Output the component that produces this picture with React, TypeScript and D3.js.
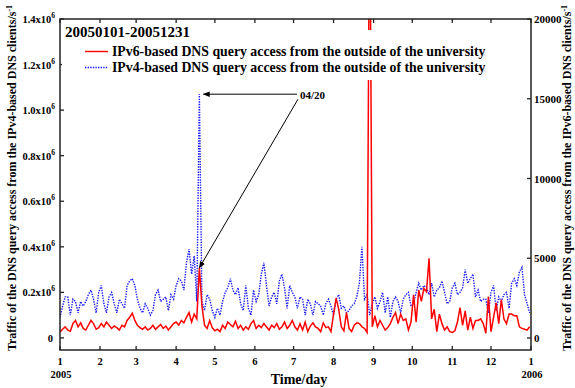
import React, { useEffect, useRef } from 'react'
import * as d3 from 'd3'

// one value every 2 days, starting 2005-01-01
const dayStep = 2

// IPv4-based DNS query traffic, in units of 10^6 /s
const ipv4Traffic = [
  0.09, 0.14, 0.18, 0.18, 0.10, 0.17, 0.16, 0.11, 0.16, 0.14,
  0.16, 0.19, 0.21, 0.17, 0.11, 0.20, 0.23, 0.15, 0.11, 0.18,
  0.20, 0.15, 0.11, 0.17, 0.15, 0.13, 0.23, 0.25, 0.26, 0.23,
  0.17, 0.13, 0.11, 0.15, 0.13, 0.10, 0.12, 0.19, 0.21, 0.16,
  0.17, 0.18, 0.12, 0.19, 0.17, 0.23, 0.26, 0.25, 0.21, 0.33,
  0.39, 0.28, 0.36, 0.16, 1.07, 0.16, 0.12, 0.19, 0.17, 0.12,
  0.09, 0.13, 0.10, 0.16, 0.20, 0.22, 0.26, 0.21, 0.19, 0.22,
  0.15, 0.12, 0.23, 0.13, 0.10, 0.21, 0.16, 0.19, 0.28, 0.33,
  0.23, 0.14, 0.18, 0.20, 0.15, 0.25, 0.28, 0.22, 0.13, 0.23,
  0.20, 0.18, 0.13, 0.18, 0.17, 0.10, 0.17, 0.15, 0.10, 0.16,
  0.15, 0.14, 0.10, 0.15, 0.17, 0.14, 0.10, 0.17, 0.19, 0.13,
  0.14, 0.11, 0.12, 0.14, 0.15, 0.18, 0.24, 0.40, 0.17, 0.19,
  0.10, 0.15, 0.18, 0.13, 0.16, 0.20, 0.11, 0.18, 0.09, 0.16,
  0.18, 0.16, 0.11, 0.17, 0.19, 0.20, 0.14, 0.15, 0.20, 0.24,
  0.21, 0.23, 0.22, 0.19, 0.24, 0.18, 0.21, 0.22, 0.25, 0.20,
  0.15, 0.16, 0.22, 0.24, 0.19, 0.20, 0.22, 0.30, 0.24, 0.26,
  0.28, 0.18, 0.21, 0.16, 0.17, 0.17, 0.11, 0.20, 0.23, 0.12,
  0.18, 0.16, 0.19, 0.20, 0.13, 0.24, 0.26, 0.23, 0.29, 0.31,
  0.19, 0.15, 0.11,
]

// IPv6-based DNS query traffic, /s
const ipv6Traffic = [
  380, 550, 700, 500, 420, 900, 1100, 700, 950, 600,
  500, 800, 1100, 900, 550, 650, 900, 700, 1000, 800,
  600, 750, 650, 500, 800, 700, 1100, 1300, 1550, 1100,
  800, 650, 550, 700, 500, 600, 800, 550, 700, 850,
  600, 750, 500, 700, 900, 1000, 800, 1100, 950, 1300,
  1600, 1000, 1500, 1200, 4400, 2000, 800, 600, 1100, 650,
  450, 550, 400, 800, 600, 1000, 850, 700, 1050, 600,
  800, 500, 700, 550, 900, 1100, 600, 800, 650, 900,
  700, 500, 800, 650, 900, 550, 700, 1000, 600, 800,
  1100, 700, 500, 900, 500, 1000, 400, 750, 950, 700,
  600, 400, 950, 650, 700, 400, 1500, 2500, 1800, 700,
  450, 1600, 600, 400, 800, 950, 900, 700, 600, 350,
  30000, 700, 1400, 700, 1100, 800, 500, 650, 900, 1300,
  1600, 900, 1500, 1100, 1200, 500, 1000, 2700, 1000, 3000,
  2300, 3100, 2900, 5000, 1200, 1800, 400, 1500, 900, 500,
  700, 400, 350, 450, 1000, 1900, 800, 1700, 500, 1300,
  600, 1100, 1100, 1200, 900, 300, 2600, 400, 1300, 2200,
  900, 2400, 1200, 900, 1500, 1500, 1400, 1400, 700, 600,
  550, 500, 700,
]

const monthStarts = [0, 31, 59, 90, 120, 151, 181, 212, 243, 273, 304, 334, 365]
const monthLabels = ['1', '2', '3', '4', '5', '6', '7', '8', '9', '10', '11', '12', '1']
const yearDays = [0, 365]
const yearLabels = ['2005', '2006']
const leftTicks = [0, 0.2, 0.4, 0.6, 0.8, 1.0, 1.2, 1.4]
const rightTicks = [0, 5000, 10000, 15000, 20000]
const peakDay = 108 // 04/20

const serif = '"Liberation Serif", "Times New Roman", serif'

const App = () => {
  const ref = useRef<HTMLDivElement>(null)

  useEffect(() => {
    makeSVG(ref.current)
  }, [])

  return <div ref={ref} style={{ position: 'absolute', left: 0, top: 0 }}></div>
}

const makeSVG = (node: HTMLDivElement | null) => {
  if (!node) return
  const width = 575
  const height = 388
  const left = 60
  const right = 531
  const top = 19
  const bottom = 350

  d3.select(node).selectAll('svg').remove()
  const svg = d3
    .select(node)
    .append('svg')
    .attr('width', width)
    .attr('height', height)
    .style('font-family', serif)
    .style('font-weight', 'bold')

  const x = d3.scaleLinear().domain([0, 365]).range([left, right])
  const yLeft = d3.scaleLinear().domain([-0.053, 1.4]).range([bottom, top])
  const yRight = d3.scaleLinear().domain([-752, 20000]).range([bottom, top])

  const defs = svg.append('defs')
  defs
    .append('clipPath')
    .attr('id', 'plotClip')
    .append('rect')
    .attr('x', left)
    .attr('y', top)
    .attr('width', right - left)
    .attr('height', bottom - top)
  defs
    .append('marker')
    .attr('id', 'arrow')
    .attr('viewBox', '0 0 10 10')
    .attr('refX', 9)
    .attr('refY', 5)
    .attr('markerWidth', 7)
    .attr('markerHeight', 7)
    .attr('markerUnits', 'userSpaceOnUse')
    .attr('orient', 'auto')
    .append('path')
    .attr('d', 'M0,1 L10,5 L0,9 z')
    .attr('fill', '#000')

  const plot = svg.append('g').attr('clip-path', 'url(#plotClip)')

  // IPv4 (left axis), dotted blue
  const line4 = d3
    .line<number>()
    .x((d, i) => x(i * dayStep))
    .y((d) => yLeft(d))
  plot
    .append('path')
    .datum(ipv4Traffic)
    .attr('d', line4)
    .attr('fill', 'none')
    .attr('stroke', '#1a1aff')
    .attr('stroke-width', 1.4)
    .attr('stroke-dasharray', '1.4,1.2')

  // IPv6 (right axis), solid red
  const line6 = d3
    .line<number>()
    .x((d, i) => x(i * dayStep))
    .y((d) => yRight(d))
  plot
    .append('path')
    .datum(ipv6Traffic)
    .attr('d', line6)
    .attr('fill', 'none')
    .attr('stroke', '#ff0000')
    .attr('stroke-width', 1.5)

  // frame
  svg
    .append('rect')
    .attr('x', left)
    .attr('y', top)
    .attr('width', right - left)
    .attr('height', bottom - top)
    .attr('fill', 'none')
    .attr('stroke', '#222')
    .attr('stroke-width', 1.5)

  // x ticks (inside, top and bottom)
  const xt = svg.append('g')
  monthStarts.forEach((d) => {
    xt.append('line').attr('x1', x(d)).attr('x2', x(d)).attr('y1', bottom).attr('y2', bottom - 4)
    xt.append('line').attr('x1', x(d)).attr('x2', x(d)).attr('y1', top).attr('y2', top + 4)
  })
  xt.selectAll('line').attr('stroke', '#222').attr('stroke-width', 1.3)

  svg
    .append('g')
    .selectAll('text')
    .data(monthLabels)
    .enter()
    .append('text')
    .text((d) => d)
    .attr('x', (d, i) => x(monthStarts[i]))
    .attr('y', 365)
    .attr('text-anchor', 'middle')
    .attr('font-size', 10.5)

  svg
    .append('g')
    .selectAll('text')
    .data(yearLabels)
    .enter()
    .append('text')
    .text((d) => d)
    .attr('x', (d, i) => x(yearDays[i]) + 1)
    .attr('y', 378)
    .attr('text-anchor', 'middle')
    .attr('font-size', 10.5)

  svg
    .append('text')
    .text('Time/day')
    .attr('x', 299)
    .attr('y', 384)
    .attr('text-anchor', 'middle')
    .attr('font-size', 14)

  // left axis
  const ly = svg.append('g')
  leftTicks.forEach((v) => {
    ly.append('line')
      .attr('x1', left)
      .attr('x2', left + 4)
      .attr('y1', yLeft(v))
      .attr('y2', yLeft(v))
      .attr('stroke', '#222')
      .attr('stroke-width', 1.3)
    const t = ly
      .append('text')
      .attr('x', v === 0 ? 53 : 55)
      .attr('y', yLeft(v) + 4)
      .attr('text-anchor', 'end')
      .attr('font-size', 10.5)
    if (v === 0) {
      t.text('0')
    } else {
      t.append('tspan').text(`${v.toFixed(1)}x10`)
      t.append('tspan').attr('dy', -5).attr('font-size', 7.5).text('6')
    }
  })

  // right axis
  const ry = svg.append('g')
  rightTicks.forEach((v) => {
    ry.append('line')
      .attr('x1', right - 4)
      .attr('x2', right)
      .attr('y1', yRight(v))
      .attr('y2', yRight(v))
      .attr('stroke', '#222')
      .attr('stroke-width', 1.3)
    ry.append('text')
      .text(String(v))
      .attr('x', right + 3)
      .attr('y', yRight(v) + 4)
      .attr('font-size', 11)
  })

  // axis titles
  const yTitle = (cx: number, label: string) => {
    const t = svg
      .append('text')
      .attr('transform', `translate(${cx}, 178) rotate(-90)`)
      .attr('text-anchor', 'middle')
      .attr('font-size', 12)
    t.append('tspan').text(label)
    t.append('tspan').attr('dy', -4).attr('font-size', 8).text('-1')
  }
  yTitle(16, 'Traffic of the DNS query access from the IPv4-based DNS clients/s')
  yTitle(571, 'Traffic of the DNS query access from the IPv6-based DNS clients/s')

  // title and legend
  svg
    .append('rect')
    .attr('x', 62)
    .attr('y', 30)
    .attr('width', 428)
    .attr('height', 50)
    .attr('fill', 'white')
  svg.append('text').text('20050101-20051231').attr('x', 65).attr('y', 37).attr('font-size', 15)

  const legend = [
    { label: 'IPv6-based DNS query access from the outside of the university', color: '#ff0000', dash: null },
    { label: 'IPv4-based DNS query access from the outside of the university', color: '#1a1aff', dash: '1.4,1.2' },
  ]
  legend.forEach((item, i) => {
    const ly0 = 51.5 + i * 16
    svg
      .append('line')
      .attr('x1', 85)
      .attr('x2', 108)
      .attr('y1', ly0)
      .attr('y2', ly0)
      .attr('stroke', item.color)
      .attr('stroke-width', 1.4)
      .attr('stroke-dasharray', item.dash)
    svg
      .append('text')
      .text(item.label)
      .attr('x', 112)
      .attr('y', ly0 + 4)
      .attr('font-size', 13.8)
  })

  // 04/20 annotation
  const peakIndex = peakDay / dayStep
  const bx = x(peakDay)
  const by = yLeft(ipv4Traffic[peakIndex])
  const rx = x(peakDay)
  const rY = yRight(ipv6Traffic[peakIndex])
  svg
    .append('line')
    .attr('x1', 297)
    .attr('y1', by)
    .attr('x2', bx + 4)
    .attr('y2', by)
    .attr('stroke', '#000')
    .attr('stroke-width', 1)
    .attr('marker-end', 'url(#arrow)')
  svg
    .append('line')
    .attr('x1', 298)
    .attr('y1', by + 5)
    .attr('x2', rx)
    .attr('y2', rY)
    .attr('stroke', '#000')
    .attr('stroke-width', 1)
    .attr('marker-end', 'url(#arrow)')
  svg.append('text').text('04/20').attr('x', 300).attr('y', by + 5).attr('font-size', 11)
}

export default App
